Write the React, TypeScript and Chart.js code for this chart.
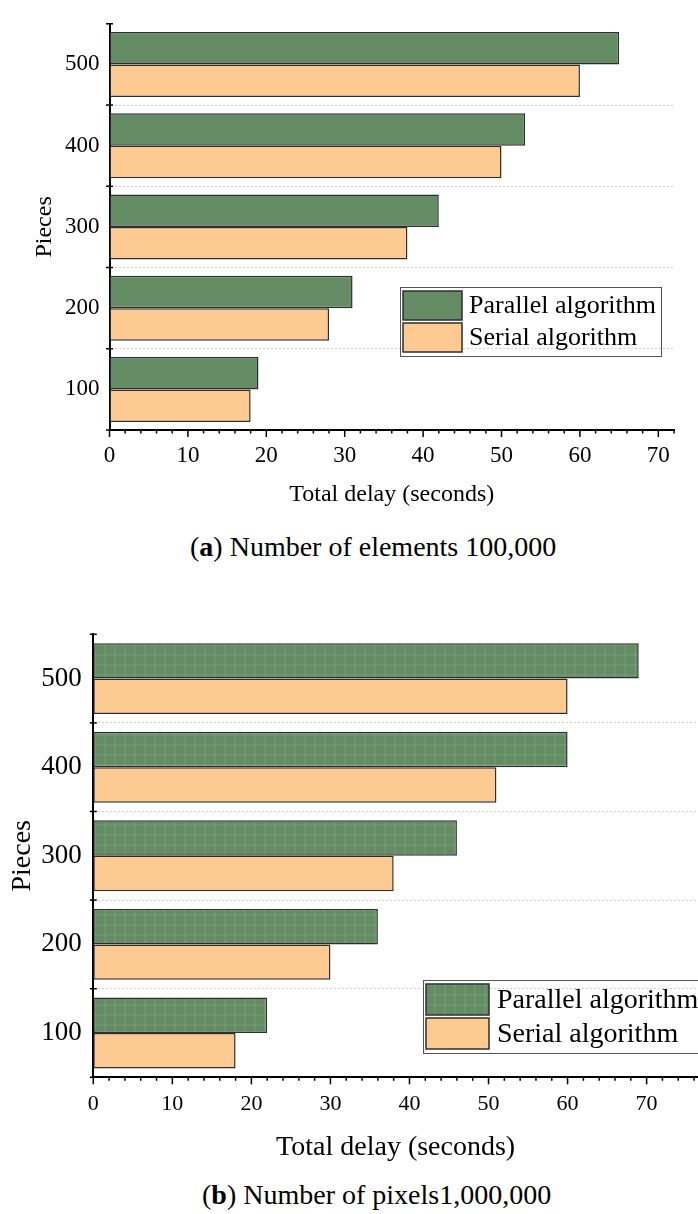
import React, { useEffect, useRef } from 'react';
import { Chart, registerables } from 'chart.js';

Chart.register(...registerables);

// ---------- data ----------
const categories = ['100', '200', '300', '400', '500'];
const seriesNames = ['Parallel algorithm', 'Serial algorithm'];

const parallelA = [19, 31, 42, 53, 65];
const serialA = [18, 28, 38, 50, 60];

const parallelB = [22, 36, 46, 60, 69];
const serialB = [18, 30, 38, 51, 60];

const yAxisTitle = 'Pieces';
const xAxisTitle = 'Total delay (seconds)';
const captionA = { tag: 'a', text: ' Number of elements 100,000' };
const captionB = { tag: 'b', text: ' Number of pixels1,000,000' };

const SERIF = '"Liberation Serif", "Times New Roman", serif';
const ORANGE = '#FDCB92';
const BAR_BORDER = '#2e2e2e';

function makeGreen(kind: 'fine' | 'plaid'): CanvasPattern | string {
  const c = document.createElement('canvas');
  const s = kind === 'fine' ? 4 : 10;
  c.width = s;
  c.height = s;
  const g = c.getContext('2d');
  if (!g) return '#648964';
  g.fillStyle = '#5f875f';
  g.fillRect(0, 0, s, s);
  for (let i = 0; i < s; i++) {
    for (let j = 0; j < s; j++) {
      if ((i + j) % 2 === 0) {
        g.fillStyle = '#6a906a';
        g.fillRect(i, j, 1, 1);
      }
    }
  }
  if (kind === 'plaid') {
    g.fillStyle = 'rgba(150,190,150,0.18)';
    g.fillRect(4, 0, 2, s);
    g.fillRect(0, 4, s, 2);
  }
  const p = g.createPattern(c, 'repeat');
  return p || '#648964';
}

const decorPlugin = {
  id: 'decor',
  afterDraw(chart: any, _args: any, opts: any) {
    const ctx = chart.ctx as CanvasRenderingContext2D;
    const xs = chart.scales.x;
    const ys = chart.scales.y;
    ctx.save();
    ctx.strokeStyle = '#000';
    ctx.lineWidth = 1.5;
    // x ticks: majors and minors
    const axisY = chart.chartArea.bottom;
    for (let v = 0; v <= xs.max + 1e-9; v += 2) {
      const px = xs.getPixelForValue(v);
      const major = Math.abs(v % 10) < 1e-9;
      ctx.beginPath();
      ctx.moveTo(px, axisY);
      ctx.lineTo(px, axisY + (major ? 7 : 3.5));
      ctx.stroke();
    }
    // y ticks at category boundaries (crossing the axis)
    const n = chart.data.labels.length;
    const axisX = chart.chartArea.left;
    for (let i = 0; i <= n; i++) {
      const py = ys.getPixelForValue(i - 0.5);
      ctx.beginPath();
      ctx.moveTo(axisX - 3.5, py);
      ctx.lineTo(axisX + 3.5, py);
      ctx.stroke();
    }
    // legend
    const L = opts.legend;
    ctx.lineWidth = 1;
    ctx.strokeStyle = '#555';
    ctx.strokeRect(L.left + 0.5, L.top + 0.5, L.width, L.height);
    chart.data.datasets.forEach((ds: any, i: number) => {
      const ry = L.rows[i];
      ctx.fillStyle = ds.backgroundColor;
      ctx.fillRect(L.swX, ry, L.swW, L.swH);
      ctx.lineWidth = 1.5;
      ctx.strokeStyle = BAR_BORDER;
      ctx.strokeRect(L.swX, ry, L.swW, L.swH);
      ctx.fillStyle = '#000';
      ctx.font = `${L.font}px ${SERIF}`;
      ctx.textBaseline = 'middle';
      ctx.textAlign = 'left';
      ctx.fillText(ds.label, L.textX, ry + L.swH / 2 + 1);
    });
    ctx.restore();
  },
};

type PanelCfg = {
  top: number;
  h: number;
  areaLeft: number;
  padTop: number;
  padRight: number;
  xMax: number;
  xScaleH: number;
  yTickFont: number;
  xTickFont: number;
  titleFont: number;
  yTitlePad: number;
  xTitlePad: number;
  yTickPad: number;
  xTickPad: number;
  pattern: 'fine' | 'plaid';
  legend: any;
};

const cfgA: PanelCfg = {
  top: 0,
  h: 520,
  areaLeft: 109.5,
  padTop: 14,
  padRight: 24,
  xMax: 72,
  xScaleH: 90,
  yTickFont: 23,
  xTickFont: 23,
  titleFont: 24,
  yTitlePad: 30.5,
  xTitlePad: 11,
  yTickPad: 10,
  xTickPad: 12,
  pattern: 'fine',
  legend: { left: 400, top: 287, width: 261, height: 69, swX: 403, swW: 59, swH: 29, rows: [291, 323], textX: 469, font: 26 },
};

const cfgB: PanelCfg = {
  top: 600,
  h: 575,
  areaLeft: 93.3,
  padTop: 34.3,
  padRight: 0,
  xMax: 76.5,
  xScaleH: 97.7,
  yTickFont: 27,
  xTickFont: 22,
  titleFont: 28,
  yTitlePad: 6,
  xTitlePad: 11,
  yTickPad: 11.5,
  xTickPad: 14,
  pattern: 'plaid',
  legend: { left: 423, top: 380, width: 280, height: 73, swX: 426, swW: 63, swH: 31, rows: [384, 418], textX: 497, font: 28 },
};

function BarPanel({ parallel, serial, cfg }: { parallel: number[]; serial: number[]; cfg: PanelCfg }) {
  const ref = useRef<HTMLCanvasElement>(null);
  useEffect(() => {
    if (!ref.current) return;
    const green = makeGreen(cfg.pattern);
    const chart = new Chart(ref.current, {
      type: 'bar',
      data: {
        labels: categories,
        datasets: [
          {
            label: seriesNames[0],
            data: parallel,
            backgroundColor: green as any,
            borderColor: BAR_BORDER,
            borderWidth: 1.5,
            borderSkipped: false,
            categoryPercentage: 0.8,
            barPercentage: 1.0,
          },
          {
            label: seriesNames[1],
            data: serial,
            backgroundColor: ORANGE,
            borderColor: BAR_BORDER,
            borderWidth: 1.5,
            borderSkipped: false,
            categoryPercentage: 0.8,
            barPercentage: 1.0,
          },
        ],
      },
      options: {
        indexAxis: 'y',
        responsive: false,
        animation: false,
        devicePixelRatio: 1,
        layout: { padding: { top: cfg.padTop, right: cfg.padRight, left: 0, bottom: 0 } },
        plugins: {
          legend: { display: false },
          tooltip: { enabled: false },
          decor: { legend: cfg.legend },
        } as any,
        scales: {
          x: {
            type: 'linear',
            min: 0,
            max: cfg.xMax,
            afterFit: (s: any) => {
              s.height = cfg.xScaleH;
            },
            grid: { display: false, drawTicks: false },
            border: { display: true, color: '#000', width: 2 },
            ticks: {
              stepSize: 10,
              includeBounds: false,
              autoSkip: false,
              maxRotation: 0,
              padding: cfg.xTickPad,
              color: '#000',
              font: { family: SERIF, size: cfg.xTickFont },
              callback: (v: any) => (Math.abs(Number(v) % 10) < 1e-9 ? String(v) : ''),
            },
            title: {
              display: true,
              text: xAxisTitle,
              color: '#000',
              font: { family: SERIF, size: cfg.titleFont },
              padding: { top: 0, bottom: cfg.xTitlePad },
            },
          },
          y: {
            type: 'category',
            reverse: true,
            afterFit: (s: any) => {
              s.width = cfg.areaLeft;
            },
            grid: {
              display: true,
              drawTicks: false,
              offset: true,
              lineWidth: 1,
              color: (c: any) => (c.type === 'tick' && c.index > 0 ? '#cfcfcf' : 'rgba(0,0,0,0)'),
            },
            border: { display: true, color: '#000', width: 2, dash: [2, 2] },
            ticks: {
              padding: cfg.yTickPad,
              color: '#000',
              font: { family: SERIF, size: cfg.yTickFont },
            },
            title: {
              display: true,
              text: yAxisTitle,
              color: '#000',
              font: { family: SERIF, size: cfg.titleFont },
              padding: { top: cfg.yTitlePad, bottom: 0 },
            },
          },
        },
      },
      plugins: [decorPlugin as any],
    } as any);
    return () => chart.destroy();
  }, []);
  return (
    <canvas
      ref={ref}
      width={698}
      height={cfg.h}
      style={{ position: 'absolute', left: 0, top: cfg.top, width: 698, height: cfg.h }}
    />
  );
}

function Caption({ c, left, top }: { c: { tag: string; text: string }; left: number; top: number }) {
  return (
    <div
      style={{
        position: 'absolute',
        left,
        top,
        whiteSpace: 'nowrap',
        fontFamily: SERIF,
        fontSize: 28,
        lineHeight: '28px',
        color: '#000',
      }}
    >
      (<b>{c.tag}</b>){c.text}
    </div>
  );
}

export default function App() {
  return (
    <div style={{ position: 'absolute', left: 0, top: 0, width: 698, height: 1214, background: '#fff', overflow: 'hidden' }}>
      <BarPanel parallel={parallelA} serial={serialA} cfg={cfgA} />
      <Caption c={captionA} left={190} top={533} />
      <BarPanel parallel={parallelB} serial={serialB} cfg={cfgB} />
      <Caption c={captionB} left={202} top={1181} />
    </div>
  );
}
